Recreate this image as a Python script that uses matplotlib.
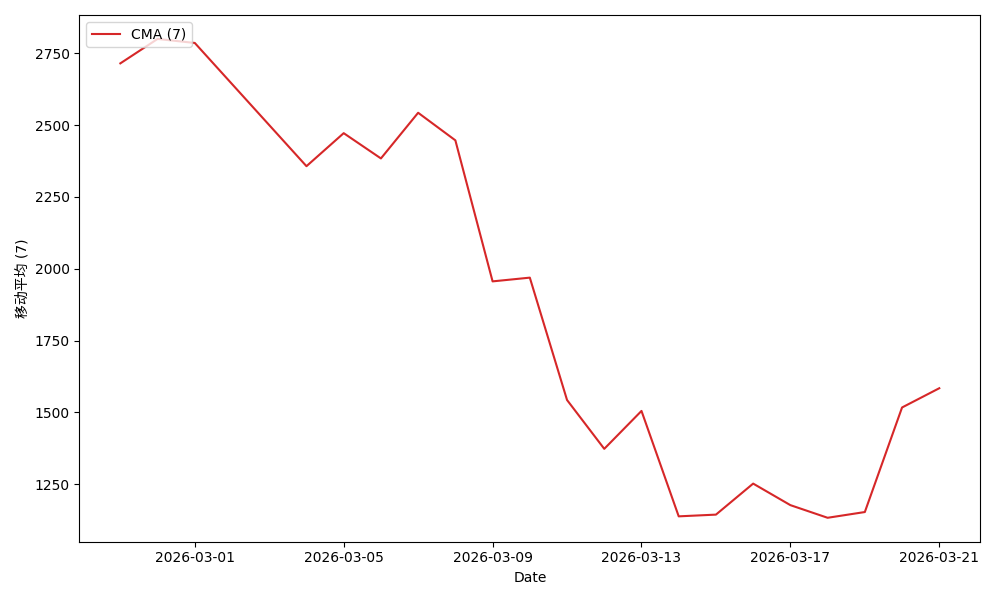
import pandas as pd
import matplotlib
matplotlib.use("Agg")
import matplotlib.pyplot as plt
import matplotlib.dates as mdates

plt.rcParams['font.family'] = ['DejaVu Sans', 'Noto Sans CJK SC']

# Fechas (faltan 03-02 y 03-03 en los datos)
dates = pd.to_datetime([
    "2026-02-27", "2026-02-28", "2026-03-01", "2026-03-04", "2026-03-05",
    "2026-03-06", "2026-03-07", "2026-03-08", "2026-03-09", "2026-03-10",
    "2026-03-11", "2026-03-12", "2026-03-13", "2026-03-14", "2026-03-15",
    "2026-03-16", "2026-03-17", "2026-03-18", "2026-03-19", "2026-03-20",
    "2026-03-21",
])
cma_values = [
    2715, 2800, 2786, 2357, 2472,
    2384, 2543, 2447, 1956, 1969,
    1543, 1373, 1505, 1138, 1144,
    1252, 1177, 1133, 1153, 1517,
    1584,
]
series_label = "CMA (7)"
y_label = "移动平均 (7)"

fig, ax = plt.subplots(figsize=(10, 6), dpi=100)
ax.plot(dates, cma_values, color="#d62728", label=series_label)
ax.set_xlabel("Date")
ax.set_ylabel(y_label)
ax.xaxis.set_major_locator(mdates.DayLocator(bymonthday=[1, 5, 9, 13, 17, 21]))
ax.xaxis.set_major_formatter(mdates.DateFormatter("%Y-%m-%d"))
ax.legend(loc="upper left")
fig.tight_layout()
fig.savefig("out.png")
